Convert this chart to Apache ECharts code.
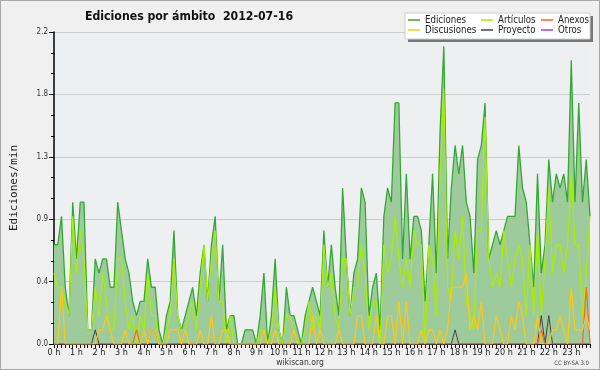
<!DOCTYPE html>
<html><head><meta charset="utf-8">
<script src="https://cdn.jsdelivr.net/npm/echarts@6/dist/echarts.min.js"></script>
<style>html,body{margin:0;padding:0;background:#f0f0f0}#c{width:600px;height:370px;box-sizing:border-box;border:1px solid #a8a8a8}</style>
</head><body><div id="c"></div>
<script>
const hourLabels = ['0 h','1 h','2 h','3 h','4 h','5 h','6 h','7 h','8 h','9 h','10 h','11 h','12 h','13 h','14 h','15 h','16 h','17 h','18 h','19 h','20 h','21 h','22 h','23 h'];
const minuteLabels = ['00','10','20','30','40','50'];
const yTicks = [0, 0.44, 0.88, 1.32, 1.76, 2.2];

const ediciones = [0.7,0.7,0.9,0.4,0.2,1.0,0.6,1.0,1.0,0.1,0.1,0.6,0.5,0.6,0.6,0.4,0.4,1.0,0.8,0.6,0.5,0.3,0.2,0.3,
0.3,0.6,0.4,0.4,0.1,0.0,0.2,0.3,0.8,0.2,0.1,0.2,0.3,0.4,0.2,0.5,0.7,0.3,0.7,0.9,0.3,0.7,0.1,0.2,
0.2,0.0,0.0,0.1,0.1,0.1,0.0,0.2,0.5,0.0,0.2,0.6,0.1,0.0,0.4,0.2,0.2,0.1,0.0,0.2,0.3,0.4,0.3,0.2,
0.8,0.4,0.7,0.4,0.2,1.1,0.6,0.2,0.5,0.6,1.1,1.0,0.2,0.4,0.5,0.1,0.9,1.1,1.0,1.7,1.7,0.6,1.2,0.6,
0.9,0.9,0.8,0.3,0.7,1.2,0.5,1.5,2.1,0.6,1.1,1.4,1.2,1.4,1.0,0.9,0.5,1.3,1.4,1.7,0.6,0.7,0.8,0.7,
0.8,0.9,0.9,0.9,1.4,1.1,1.0,0.7,0.4,1.2,0.5,0.7,1.3,1.0,1.2,1.1,1.2,1.0,2.0,1.0,1.7,1.0,1.3,0.9];

const articulos = [0.5,0.4,0.4,0.3,0.2,0.9,0.5,0.8,0.6,0.1,0.1,0.4,0.2,0.5,0.3,0.1,0.1,0.6,0.6,0.3,0.1,0.2,0.0,0.2,
0.1,0.5,0.2,0.2,0.0,0.0,0.1,0.2,0.6,0.2,0.1,0.1,0.2,0.3,0.1,0.4,0.7,0.3,0.6,0.8,0.3,0.3,0.0,0.2,
0.0,0.0,0.0,0.0,0.0,0.0,0.0,0.1,0.1,0.0,0.1,0.4,0.1,0.0,0.2,0.2,0.1,0.0,0.0,0.1,0.3,0.1,0.2,0.1,
0.7,0.4,0.5,0.2,0.1,0.6,0.6,0.2,0.4,0.4,0.7,0.5,0.1,0.3,0.3,0.0,0.7,0.5,0.6,0.9,0.6,0.4,0.6,0.4,
0.8,0.7,0.7,0.0,0.7,0.6,0.2,1.2,1.8,0.4,0.3,0.8,0.6,0.9,0.3,0.2,0.1,0.8,0.8,1.6,0.6,0.4,0.5,0.4,
0.8,0.6,0.4,0.6,0.7,0.6,0.2,0.7,0.2,0.8,0.2,0.6,1.1,0.5,0.7,0.7,0.5,0.7,1.2,0.7,0.7,0.2,0.5,0.9];

const discusiones = [0,0,0.4,0,0,0,0,0,0,0,0,0,0.1,0.1,0.2,0.1,0,0,0,0.1,0,0,0,0,
0.1,0,0.1,0.1,0,0,0,0.1,0.1,0.1,0,0.1,0,0,0,0.1,0,0,0.2,0,0,0.1,0.1,0,
0,0,0,0,0,0,0,0,0.1,0,0,0.1,0,0,0,0,0.1,0,0,0,0,0.2,0,0.1,
0,0,0,0,0.1,0,0,0,0,0.2,0.2,0,0,0,0.2,0,0,0.2,0.2,0,0.3,0,0.3,0,
0,0,0.1,0,0.1,0.1,0,0.1,0,0.1,0.4,0.4,0.4,0.4,0.5,0.1,0.2,0.1,0.3,0,0,0,0.2,0.1,
0,0,0.2,0.1,0.3,0.2,0,0,0,0.2,0,0,0,0.1,0.1,0.2,0.1,0,0.4,0.1,0.1,0.1,0.2,0.1];

const anexos = [0,0,0,0,0,0,0,0,0,0,0,0,0,0,0,0,0,0,0,0,0,0,0.1,0,
0,0,0.1,0.1,0,0,0,0,0,0,0,0,0,0,0,0,0,0,0,0,0,0,0,0,
0,0,0,0,0,0,0,0,0,0,0,0,0,0,0,0,0,0,0,0,0,0,0,0,
0,0,0,0,0,0,0,0,0,0,0,0,0,0,0,0,0,0,0,0,0,0,0,0,
0,0,0,0,0,0,0,0,0,0,0,0,0,0,0,0,0,0,0,0,0,0,0,0,
0,0,0,0,0,0,0,0,0,0,0.1,0,0,0,0,0,0,0,0,0,0,0,0.4,0];

const proyecto = [0,0,0,0,0,0,0,0,0,0,0,0.1,0,0,0,0,0,0,0,0,0,0,0,0,
0,0,0,0,0,0,0,0,0,0,0,0,0,0,0,0,0,0,0,0,0,0,0,0,
0,0,0,0,0,0,0,0,0,0,0,0,0,0,0,0,0,0,0,0,0,0,0,0,
0,0,0,0,0,0,0,0,0,0,0,0,0,0,0,0,0,0,0,0,0,0,0,0,
0,0,0,0,0,0,0,0,0,0,0,0.1,0,0,0,0,0,0,0,0,0,0,0,0,
0,0,0,0,0,0,0,0,0,0,0.2,0,0.2,0,0,0,0,0,0,0,0,0,0,0];

const otros = new Array(144).fill(0);

const categories = [];
hourLabels.forEach(h => minuteLabels.forEach(m => categories.push(h + ':' + m)));

const FONT = "'DejaVu Sans Condensed','DejaVu Sans'";
const chart = echarts.init(document.getElementById('c'), null, {renderer: 'canvas'});

function line(name, data, color, w, z) {
  return {name, type: 'line', data, symbol: 'none', z,
    lineStyle: {color, width: w}, itemStyle: {color}, animation: false};
}
const legendText = {fontFamily: FONT, fontSize: 9.6, color: '#222', lineHeight: 10};

chart.setOption({
  backgroundColor: '#f0f0f0',
  animation: false,
  title: {text: 'Ediciones por ámbito  2012-07-16', left: 79, top: 5,
    textStyle: {fontFamily: FONT, fontWeight: 'bold', fontSize: 12.2, color: '#111'}},
  grid: {left: 45, right: 9, top: 31, bottom: 25, show: true, backgroundColor: '#eeeff1', borderWidth: 0},
  graphic: [
    {type: 'rect', shape: {x: 407, y: 15, width: 185, height: 26}, style: {fill: '#777777'}, z: 50},
    {type: 'rect', shape: {x: 404, y: 12, width: 185, height: 26}, style: {fill: '#ffffff', stroke: '#d0d0d0', lineWidth: 1}, z: 51},
    {type: 'text', left: 'center', top: 357, style: {text: 'wikiscan.org', font: "8.5px " + FONT, fill: '#333'}},
    {type: 'text', right: 10, top: 359, style: {text: 'CC BY-SA 3.0', font: "6px " + FONT, fill: '#444'}}
  ],
  legend: [
    {data: ['Ediciones', 'Discusiones'], orient: 'vertical', left: 407, top: 14, itemGap: 0, itemWidth: 12, itemHeight: 1.5, icon: 'rect', z: 60, textStyle: legendText, padding: 0},
    {data: ['Artículos', 'Proyecto'], orient: 'vertical', left: 480, top: 14, itemGap: 0, itemWidth: 12, itemHeight: 1.5, icon: 'rect', z: 60, textStyle: legendText, padding: 0},
    {data: ['Anexos', 'Otros'], orient: 'vertical', left: 540, top: 14, itemGap: 0, itemWidth: 12, itemHeight: 1.5, icon: 'rect', z: 60, textStyle: legendText, padding: 0}
  ],
  xAxis: {type: 'category', data: categories, boundaryGap: false,
    axisLine: {lineStyle: {color: '#000', width: 1}},
    axisTick: {show: true, interval: 0, length: 4, lineStyle: {color: '#000'}},
    axisLabel: {interval: 5, margin: 4, fontSize: 9, fontFamily: FONT, color: '#222',
      formatter: (v, i) => hourLabels[Math.floor(i / 6)]},
    splitLine: {show: false}},
  yAxis: {type: 'value', min: yTicks[0], max: yTicks[yTicks.length - 1], interval: yTicks[1],
    name: 'Ediciones/min', nameLocation: 'middle', nameGap: 34, nameRotate: 90,
    nameTextStyle: {fontFamily: "'DejaVu Sans Mono'", fontSize: 11, color: '#222'},
    axisLine: {show: true, lineStyle: {color: '#000', width: 1.5}},
    axisTick: {show: true, length: 5, lineStyle: {color: '#000'}},
    minorTick: {show: true, splitNumber: 3, length: 3, lineStyle: {color: '#000'}},
    axisLabel: {margin: 6, fontSize: 8, fontFamily: FONT, color: '#333', formatter: v => v.toFixed(1)},
    splitLine: {lineStyle: {color: '#cccccc', width: 1}}},
  series: [
    line('Otros', otros, '#9944ee', 1, 1),
    Object.assign(line('Ediciones', ediciones, '#34a834', 1.3, 2), {areaStyle: {color: '#9ecb9b', opacity: 1}}),
    line('Artículos', articulos, '#aaee00', 1.2, 3),
    line('Proyecto', proyecto, '#444444', 1, 4),
    line('Anexos', anexos, '#ff6622', 1.2, 5),
    line('Discusiones', discusiones, '#ffc810', 1.2, 6)
  ]
});
</script></body></html>
